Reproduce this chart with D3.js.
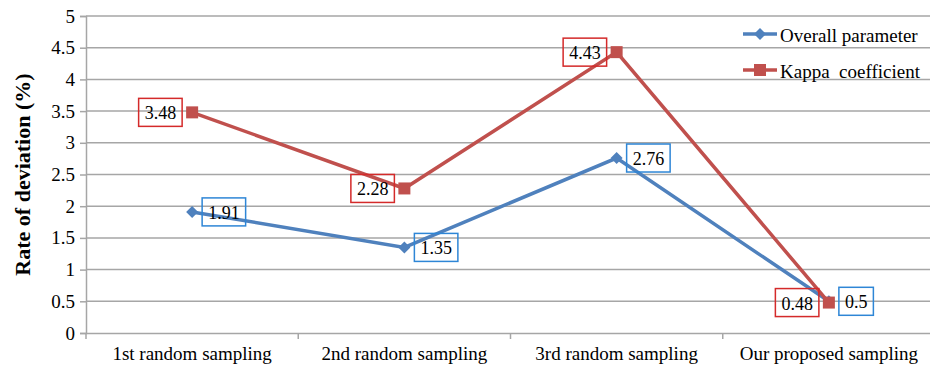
<!DOCTYPE html>
<html>
<head>
<meta charset="utf-8">
<script src="https://cdn.jsdelivr.net/npm/d3@7"></script>
<style>
  body { margin: 0; background: #fff; }
  svg { display: block; }
  svg text { font-family: "Liberation Serif", "Times New Roman", serif; }
</style>
</head>
<body>
<svg id="chart" width="930" height="368"></svg>
<script>
  // chart data
  var categories = ["1st random sampling", "2nd random sampling", "3rd random sampling", "Our proposed sampling"];
  var overallValues = [1.91, 1.35, 2.76, 0.5];
  var kappaValues = [3.48, 2.28, 4.43, 0.48];
  var yTicks = [0, 0.5, 1, 1.5, 2, 2.5, 3, 3.5, 4, 4.5, 5];

  var series = [
    { name: "Overall parameter", values: overallValues, line: "#4F81BD", box: "#2E86D6", marker: "diamond", side: "right" },
    { name: "Kappa  coefficient", values: kappaValues, line: "#C0504D", box: "#D42A2A", marker: "square", side: "left" }
  ];

  var svg = d3.select("#chart");
  var plotLeft = 86, plotRight = 935, plotTop = 16, plotBottom = 333;
  var gridColor = "#A6A6A6";
  var serif = "Liberation Serif, Times New Roman, serif";

  var x = d3.scaleBand().domain(categories).range([plotLeft, plotRight]);
  var y = d3.scaleLinear().domain([0, 5]).range([plotBottom, plotTop]);

  function cx(i) { return x(categories[i]) + x.bandwidth() / 2; }

  // gridlines
  svg.append("g").selectAll("line")
    .data(yTicks.filter(function (d) { return d > 0; }))
    .enter().append("line")
    .attr("x1", plotLeft).attr("x2", plotRight)
    .attr("y1", function (d) { return y(d); })
    .attr("y2", function (d) { return y(d); })
    .attr("stroke", gridColor).attr("stroke-width", 1.5);

  // y axis
  var yAxis = svg.append("g")
    .attr("transform", "translate(" + plotLeft + ",0)")
    .call(d3.axisLeft(y).tickValues(yTicks).tickSize(6).tickPadding(5)
      .tickFormat(function (d) { return String(d); }));
  yAxis.attr("font-family", serif);
  yAxis.select(".domain").attr("stroke", gridColor).attr("stroke-width", 1.5);
  yAxis.selectAll(".tick line").attr("stroke", gridColor).attr("stroke-width", 1.5);
  yAxis.selectAll("text").attr("font-size", 19).attr("fill", "#000");

  // x axis
  var xAxis = svg.append("g")
    .attr("transform", "translate(0," + plotBottom + ")")
    .call(d3.axisBottom(x).tickSize(0).tickPadding(14));
  xAxis.attr("font-family", serif);
  xAxis.select(".domain").attr("stroke", gridColor).attr("stroke-width", 1.5);
  xAxis.selectAll("text").attr("font-size", 19).attr("fill", "#000");
  // category boundary ticks
  xAxis.selectAll(".bound")
    .data(categories)
    .enter().append("line")
    .attr("x1", function (d) { return x(d); })
    .attr("x2", function (d) { return x(d); })
    .attr("y1", 0).attr("y2", 6)
    .attr("stroke", gridColor).attr("stroke-width", 1.5);

  // y axis title
  svg.append("text")
    .attr("transform", "translate(22," + ((plotTop + plotBottom) / 2) + ") rotate(-90)")
    .attr("text-anchor", "middle")
    .attr("dominant-baseline", "central")
    .attr("font-size", 22).attr("font-weight", "bold")
    .text("Rate of deviation (%)");

  var line = d3.line()
    .x(function (d, i) { return cx(i); })
    .y(function (d) { return y(d); });

  function drawMarker(g, type, color, px, py) {
    if (type === "diamond") {
      g.append("path")
        .attr("d", "M" + px + "," + (py - 6) + "L" + (px + 6) + "," + py + "L" + px + "," + (py + 6) + "L" + (px - 6) + "," + py + "Z")
        .attr("fill", color);
    } else {
      g.append("rect")
        .attr("x", px - 6).attr("y", py - 6)
        .attr("width", 12).attr("height", 12)
        .attr("fill", color);
    }
  }

  series.forEach(function (s) {
    var g = svg.append("g");
    g.append("path")
      .datum(s.values)
      .attr("d", line)
      .attr("fill", "none")
      .attr("stroke", s.line)
      .attr("stroke-width", 3.5);
    s.values.forEach(function (v, i) {
      drawMarker(g, s.marker, s.line, cx(i), y(v));
    });
  });

  // data labels with boxes
  series.forEach(function (s) {
    var g = svg.append("g");
    s.values.forEach(function (v, i) {
      var px = cx(i), py = y(v);
      var t = g.append("text")
        .attr("font-size", 18)
        .attr("dominant-baseline", "central")
        .text(String(v));
      var w = t.node().getComputedTextLength() + 12, h = 28;
      var bx = s.side === "right" ? px + 10 : px - 10 - w;
      t.attr("x", bx + 6).attr("y", py + 1);
      g.insert("rect", "text")
        .attr("x", bx).attr("y", py - h / 2)
        .attr("width", w).attr("height", h)
        .attr("fill", "none")
        .attr("stroke", s.box).attr("stroke-width", 1.5);
    });
  });

  // legend
  var legend = svg.append("g");
  series.forEach(function (s, i) {
    var ly = 34 + i * 36;
    legend.append("line")
      .attr("x1", 743).attr("x2", 777)
      .attr("y1", ly).attr("y2", ly)
      .attr("stroke", s.line).attr("stroke-width", 3.5);
    drawMarker(legend, s.marker, s.line, 760, ly);
    legend.append("text")
      .attr("x", 780).attr("y", ly + 1)
      .attr("dominant-baseline", "central")
      .attr("font-size", 19)
      .attr("xml:space", "preserve")
      .style("white-space", "pre")
      .text(s.name);
  });
</script>
</body>
</html>
